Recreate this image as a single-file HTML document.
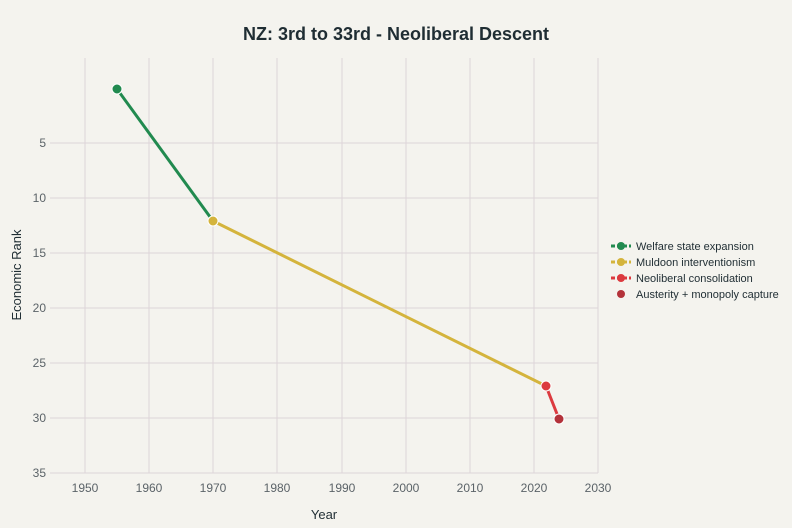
<!DOCTYPE html>
<html><head><style>
body{margin:0;background:#f4f3ee;}
svg{display:block;font-family:"Liberation Sans",sans-serif;}
</style></head><body>
<svg width="792" height="528" viewBox="0 0 792 528">
<rect width="792" height="528" fill="#f4f3ee"/>
<text x="396" y="40" text-anchor="middle" font-size="18" font-weight="bold" fill="#1f2d33">NZ: 3rd to 33rd - Neoliberal Descent</text>
<g stroke="#ddd4d8" stroke-width="1">
<line x1="85" y1="58" x2="85" y2="473"/><line x1="149" y1="58" x2="149" y2="473"/><line x1="213" y1="58" x2="213" y2="473"/><line x1="277" y1="58" x2="277" y2="473"/><line x1="342" y1="58" x2="342" y2="473"/><line x1="406" y1="58" x2="406" y2="473"/><line x1="470" y1="58" x2="470" y2="473"/><line x1="534" y1="58" x2="534" y2="473"/><line x1="598" y1="58" x2="598" y2="473"/>
<line x1="50" y1="143" x2="598" y2="143"/><line x1="50" y1="198" x2="598" y2="198"/><line x1="50" y1="253" x2="598" y2="253"/><line x1="50" y1="308" x2="598" y2="308"/><line x1="50" y1="363" x2="598" y2="363"/><line x1="50" y1="418" x2="598" y2="418"/><line x1="50" y1="473" x2="598" y2="473"/>
</g>
<g font-size="12" fill="#5b6368" text-anchor="end">
<text x="46" y="147">5</text><text x="46" y="202">10</text><text x="46" y="257">15</text><text x="46" y="312">20</text><text x="46" y="367">25</text><text x="46" y="422">30</text><text x="46" y="477">35</text>
</g>
<g font-size="12" fill="#5b6368" text-anchor="middle">
<text x="85" y="492">1950</text><text x="149" y="492">1960</text><text x="213" y="492">1970</text><text x="277" y="492">1980</text><text x="342" y="492">1990</text><text x="406" y="492">2000</text><text x="470" y="492">2010</text><text x="534" y="492">2020</text><text x="598" y="492">2030</text>
</g>
<text x="324" y="519" text-anchor="middle" font-size="13" fill="#1f2d33">Year</text>
<text transform="translate(21,275) rotate(-90)" text-anchor="middle" font-size="13" fill="#1f2d33">Economic Rank</text>
<line x1="117" y1="89" x2="213" y2="221" stroke="#218a4f" stroke-width="3"/>
<line x1="213" y1="221" x2="546" y2="386" stroke="#d4b43c" stroke-width="3"/>
<line x1="546" y1="386" x2="559" y2="419" stroke="#dc3a3f" stroke-width="3"/>
<circle cx="117" cy="89" r="5" fill="#218a4f" stroke="#fff" stroke-width="1"/>
<circle cx="213" cy="221" r="5" fill="#d4b43c" stroke="#fff" stroke-width="1"/>
<circle cx="546" cy="386" r="5" fill="#dc3a3f" stroke="#fff" stroke-width="1"/>
<circle cx="559" cy="419" r="5" fill="#b3323a" stroke="#fff" stroke-width="1"/>
<g font-size="11" fill="#1f2d33">
<line x1="611" y1="246" x2="631" y2="246" stroke="#218a4f" stroke-width="3" stroke-dasharray="4,2"/><circle cx="621" cy="246" r="4" fill="#218a4f"/><text x="636" y="250">Welfare state expansion</text>
<line x1="611" y1="262" x2="631" y2="262" stroke="#d4b43c" stroke-width="3" stroke-dasharray="4,2"/><circle cx="621" cy="262" r="4" fill="#d4b43c"/><text x="636" y="266">Muldoon interventionism</text>
<line x1="611" y1="278" x2="631" y2="278" stroke="#dc3a3f" stroke-width="3" stroke-dasharray="4,2"/><circle cx="621" cy="278" r="4" fill="#dc3a3f"/><text x="636" y="282">Neoliberal consolidation</text>
<circle cx="621" cy="294" r="4" fill="#b3323a"/><text x="636" y="298">Austerity + monopoly capture</text>
</g>
</svg>
</body></html>
